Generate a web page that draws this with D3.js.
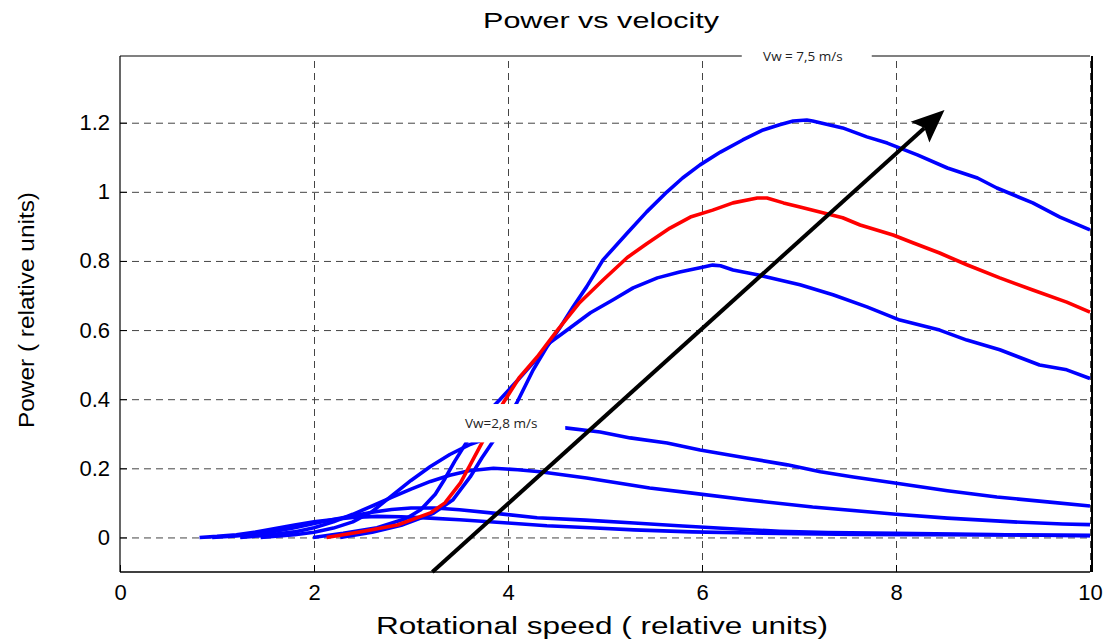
<!DOCTYPE html>
<html>
<head>
<meta charset="utf-8">
<script src="https://cdn.jsdelivr.net/npm/d3@7"></script>
<style>
	body { margin: 0; background: #fff; }
	svg { display: block; }
	.tick-label text { font-family: 'Liberation Sans', Arial, sans-serif; font-size: 22px; fill: #000; }
	.title, .axis-title { font-family: 'Liberation Sans', Arial, sans-serif; fill: #000; }
	.note { font-family: 'Open Sans', sans-serif; font-size: 13.5px; fill: #222; }
</style>
</head>
<body>
<svg id="chart"></svg>
<script>
// tick values and labels
const xTicks = [0, 2, 4, 6, 8, 10]
const xTickLabels = ['0', '2', '4', '6', '8', '10']
const yTicks = [0, 0.2, 0.4, 0.6, 0.8, 1, 1.2]
const yTickLabels = ['0', '0.2', '0.4', '0.6', '0.8', '1', '1.2']

// power curves, [rotational speed, power], lowest wind speed first
const curve1 = [[0.82, 0], [1.0, 0.003], [1.2, 0.008], [1.4, 0.016], [1.6, 0.026], [1.8, 0.036], [2.0, 0.045], [2.2, 0.052], [2.4, 0.058], [2.65, 0.061], [2.9, 0.06], [3.2, 0.056], [3.5, 0.051], [4.0, 0.042], [4.4, 0.034], [4.85, 0.028], [5.3, 0.022], [5.9, 0.016], [6.5, 0.013], [7.0, 0.011], [7.6, 0.009], [8.3, 0.008], [9.2, 0.007], [10, 0.006]]
const curve2 = [[0.95, 0], [1.2, 0.004], [1.4, 0.01], [1.6, 0.018], [1.8, 0.028], [2.0, 0.04], [2.2, 0.052], [2.4, 0.063], [2.6, 0.073], [2.8, 0.081], [3.0, 0.085], [3.25, 0.085], [3.5, 0.08], [3.9, 0.069], [4.3, 0.057], [4.8, 0.05], [5.3, 0.042], [5.8, 0.033], [6.3, 0.025], [6.8, 0.018], [7.3, 0.014], [8.0, 0.012], [9.0, 0.008], [10, 0.005]]
const curve3 = [[1.24, 0], [1.5, 0.006], [1.8, 0.016], [2.0, 0.028], [2.2, 0.045], [2.4, 0.067], [2.6, 0.091], [2.8, 0.116], [3.0, 0.14], [3.2, 0.162], [3.4, 0.18], [3.6, 0.193], [3.85, 0.2], [4.1, 0.196], [4.33, 0.19], [4.81, 0.172], [5.12, 0.158], [5.46, 0.143], [5.88, 0.129], [6.46, 0.109], [7.14, 0.088], [7.97, 0.068], [8.53, 0.056], [9.21, 0.045], [9.72, 0.039], [10, 0.037]]
const curve4 = [[1.45, 0], [1.8, 0.008], [2.0, 0.015], [2.2, 0.027], [2.4, 0.045], [2.6, 0.075], [2.8, 0.12], [3.0, 0.165], [3.2, 0.205], [3.4, 0.24], [3.6, 0.268], [3.8, 0.288], [4.0, 0.302], [4.2, 0.312], [4.45, 0.319], [4.59, 0.317], [4.95, 0.305], [5.26, 0.288], [5.64, 0.273], [5.98, 0.253], [6.46, 0.23], [6.88, 0.21], [7.22, 0.19], [7.56, 0.175], [7.97, 0.158], [8.53, 0.135], [9.04, 0.117], [9.56, 0.103], [10, 0.091]]
const curve5 = [[1.99, 0], [2.3, 0.012], [2.65, 0.028], [2.95, 0.055], [3.1, 0.08], [3.25, 0.125], [3.35, 0.17], [3.45, 0.22], [3.65, 0.31], [3.8, 0.365], [3.92, 0.4], [4.1, 0.455], [4.26, 0.505], [4.43, 0.563], [4.61, 0.6], [4.85, 0.65], [5.08, 0.687], [5.29, 0.722], [5.54, 0.751], [5.77, 0.768], [5.98, 0.78], [6.11, 0.788], [6.19, 0.786], [6.32, 0.774], [6.57, 0.76], [6.8, 0.745], [7.01, 0.731], [7.35, 0.702], [7.7, 0.667], [8.04, 0.629], [8.45, 0.6], [8.73, 0.571], [9.07, 0.543], [9.48, 0.499], [9.76, 0.485], [10, 0.46]]
const curveRed = [[2.13, 0], [2.47, 0.016], [2.86, 0.036], [3.2, 0.071], [3.35, 0.1], [3.51, 0.158], [3.61, 0.21], [3.73, 0.273], [3.95, 0.389], [4.12, 0.464], [4.3, 0.522], [4.51, 0.6], [4.74, 0.68], [4.98, 0.745], [5.23, 0.81], [5.43, 0.85], [5.67, 0.895], [5.88, 0.927], [6.11, 0.947], [6.32, 0.968], [6.57, 0.982], [6.67, 0.982], [6.84, 0.968], [7.01, 0.956], [7.45, 0.925], [7.63, 0.904], [7.97, 0.875], [8.18, 0.852], [8.45, 0.823], [8.73, 0.789], [9.07, 0.751], [9.41, 0.716], [9.76, 0.681], [10, 0.652]]
const curve7 = [[2.27, 0], [2.6, 0.015], [2.9, 0.035], [3.23, 0.07], [3.43, 0.108], [3.61, 0.175], [3.73, 0.23], [3.85, 0.28], [4.09, 0.389], [4.26, 0.485], [4.4, 0.551], [4.54, 0.609], [4.67, 0.667], [4.81, 0.725], [4.98, 0.803], [5.23, 0.881], [5.43, 0.942], [5.64, 1.0], [5.8, 1.04], [5.98, 1.078], [6.19, 1.115], [6.42, 1.15], [6.63, 1.179], [6.8, 1.194], [6.94, 1.205], [7.08, 1.208], [7.14, 1.205], [7.45, 1.185], [7.7, 1.159], [7.91, 1.141], [8.22, 1.107], [8.53, 1.069], [8.84, 1.04], [9.04, 1.011], [9.41, 0.968], [9.69, 0.927], [10, 0.89]]

// arrow showing rising wind speed, and the two notes
const arrowFrom = [3.22, -0.1]
const arrowTo = [8.5, 1.237]
const notes = [
	{ text: 'Vw = 7,5 m/s', x: 7.04, y: 1.393, x0: 6.41, x1: 7.75, y0: 1.36, y1: 1.42 },
	{ text: 'Vw=2,8 m/s', x: 3.93, y: 0.331, x0: 3.42, x1: 4.59, y0: 0.275, y1: 0.386 }
]

function powerChart() {
	const width = 1111
	const height = 639
	const margin = { top: 56, right: 21, bottom: 67, left: 120 }

	const xScale = d3.scaleLinear().domain([0, 10]).range([margin.left, width - margin.right])
	const yScale = d3.scaleLinear().domain([-0.1, 1.393]).range([height - margin.bottom, margin.top])

	const svg = d3.select('#chart').attr('width', width).attr('height', height)

	// grid
	svg
		.append('g')
		.attr('transform', `translate(0,${height - margin.bottom})`)
		.call(d3.axisBottom(xScale).tickValues(xTicks.slice(1)).tickSize(-(height - margin.top - margin.bottom)).tickFormat(''))
		.call(g => g.select('.domain').remove())
		.selectAll('line')
		.attr('stroke', '#444')
		.attr('stroke-dasharray', '7,5')
	svg
		.append('g')
		.attr('transform', `translate(${margin.left},0)`)
		.call(d3.axisLeft(yScale).tickValues(yTicks).tickSize(-(width - margin.left - margin.right)).tickFormat(''))
		.call(g => g.select('.domain').remove())
		.selectAll('line')
		.attr('stroke', '#444')
		.attr('stroke-dasharray', '7,5')

	// curves
	const line = d3
		.line()
		.x(d => xScale(d[0]))
		.y(d => yScale(d[1]))
	const curves = [
		{ data: curve1, color: '#0000ff' },
		{ data: curve2, color: '#0000ff' },
		{ data: curve3, color: '#0000ff' },
		{ data: curve4, color: '#0000ff' },
		{ data: curve5, color: '#0000ff' },
		{ data: curve7, color: '#0000ff' },
		{ data: curveRed, color: '#ff0000' }
	]
	svg
		.append('g')
		.selectAll('path')
		.data(curves)
		.join('path')
		.attr('fill', 'none')
		.attr('stroke', d => d.color)
		.attr('stroke-width', 3.6)
		.attr('stroke-linejoin', 'round')
		.attr('d', d => line(d.data))

	// arrow
	const ax0 = xScale(arrowFrom[0])
	const ay0 = yScale(arrowFrom[1])
	const ax1 = xScale(arrowTo[0])
	const ay1 = yScale(arrowTo[1])
	const ang = Math.atan2(ay1 - ay0, ax1 - ax0)
	const headLen = 33
	const headHalf = 14
	const bx = ax1 - headLen * Math.cos(ang)
	const by = ay1 - headLen * Math.sin(ang)
	svg
		.append('line')
		.attr('x1', ax0)
		.attr('y1', ay0)
		.attr('x2', bx + 6 * Math.cos(ang))
		.attr('y2', by + 6 * Math.sin(ang))
		.attr('stroke', '#000')
		.attr('stroke-width', 4)
	svg
		.append('path')
		.attr('fill', '#000')
		.attr(
			'd',
			`M${ax1},${ay1} L${bx - headHalf * Math.sin(ang)},${by + headHalf * Math.cos(ang)} L${bx + 6 * Math.cos(ang)},${by + 6 * Math.sin(ang)} L${bx + headHalf * Math.sin(ang)},${by - headHalf * Math.cos(ang)} Z`
		)

	// frame
	const frame = svg.append('g')
	frame
		.append('line')
		.attr('x1', margin.left)
		.attr('x2', width - margin.right)
		.attr('y1', margin.top)
		.attr('y2', margin.top)
		.attr('stroke', '#808080')
		.attr('stroke-width', 2)
	frame
		.append('line')
		.attr('x1', margin.left)
		.attr('x2', width - margin.right)
		.attr('y1', height - margin.bottom)
		.attr('y2', height - margin.bottom)
		.attr('stroke', '#000')
		.attr('stroke-width', 1.5)
	frame
		.append('line')
		.attr('x1', margin.left)
		.attr('x2', margin.left)
		.attr('y1', margin.top)
		.attr('y2', height - margin.bottom)
		.attr('stroke', '#000')
		.attr('stroke-width', 1.2)
	frame
		.append('line')
		.attr('x1', width - margin.right + 2)
		.attr('x2', width - margin.right + 2)
		.attr('y1', margin.top)
		.attr('y2', height - margin.bottom)
		.attr('stroke', '#000')
		.attr('stroke-width', 2)

	// axes with inward ticks
	svg
		.append('g')
		.attr('class', 'tick-label')
		.attr('transform', `translate(0,${height - margin.bottom})`)
		.call(d3.axisBottom(xScale).tickValues(xTicks).tickSize(-7).tickSizeOuter(0).tickPadding(12).tickFormat((d, i) => xTickLabels[i]))
		.call(g => g.select('.domain').remove())
		.call(g => g.selectAll('line').attr('stroke', '#000'))
	svg
		.append('g')
		.attr('class', 'tick-label')
		.attr('transform', `translate(${margin.left},0)`)
		.call(d3.axisLeft(yScale).tickValues(yTicks).tickSize(-7).tickSizeOuter(0).tickPadding(10).tickFormat((d, i) => yTickLabels[i]))
		.call(g => g.select('.domain').remove())
		.call(g => g.selectAll('line').attr('stroke', '#000'))

	// notes with white boxes
	const note = svg.append('g').selectAll('g').data(notes).join('g')
	note
		.append('rect')
		.attr('x', d => xScale(d.x0))
		.attr('y', d => yScale(d.y1))
		.attr('width', d => xScale(d.x1) - xScale(d.x0))
		.attr('height', d => yScale(d.y0) - yScale(d.y1))
		.attr('fill', '#fff')
	note
		.append('text')
		.attr('class', 'note')
		.attr('x', d => xScale(d.x))
		.attr('y', d => yScale(d.y))
		.attr('dy', '0.35em')
		.attr('text-anchor', 'middle')
		.text(d => d.text)

	// titles, stretched to the widths they have in the original
	svg
		.append('text')
		.attr('class', 'title')
		.attr('x', 601)
		.attr('y', 28)
		.attr('text-anchor', 'middle')
		.attr('font-size', 22)
		.attr('textLength', 236)
		.attr('lengthAdjust', 'spacingAndGlyphs')
		.text('Power vs velocity')
	svg
		.append('text')
		.attr('class', 'axis-title')
		.attr('x', 602)
		.attr('y', 634)
		.attr('text-anchor', 'middle')
		.attr('font-size', 23)
		.attr('textLength', 452)
		.attr('lengthAdjust', 'spacingAndGlyphs')
		.text('Rotational speed ( relative units)')
	svg
		.append('text')
		.attr('class', 'axis-title')
		.attr('transform', `translate(34,310) rotate(-90)`)
		.attr('text-anchor', 'middle')
		.attr('font-size', 22)
		.attr('textLength', 236)
		.attr('lengthAdjust', 'spacingAndGlyphs')
		.text('Power ( relative units)')
}

powerChart()
</script>
</body>
</html>
